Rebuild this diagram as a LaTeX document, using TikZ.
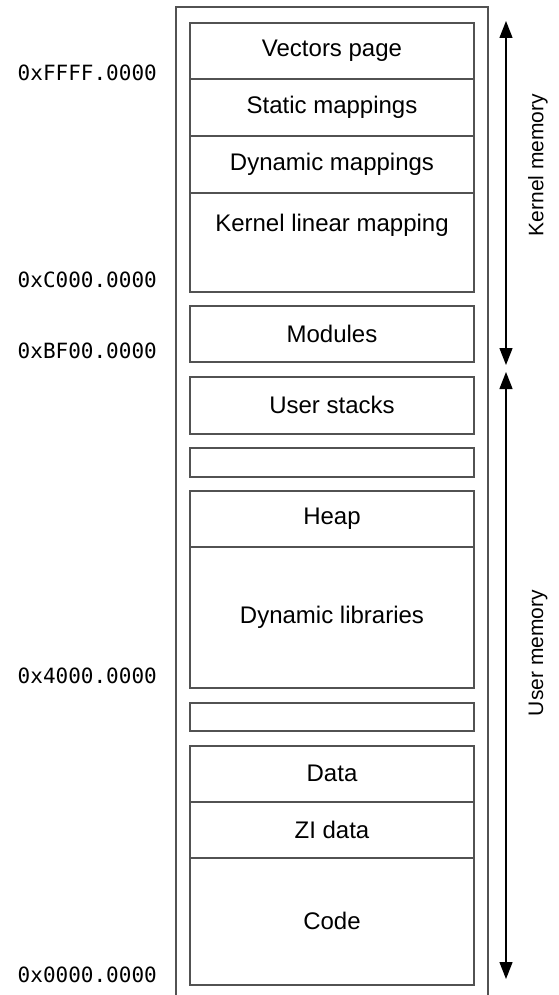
\documentclass[tikz,border=0pt]{standalone}
\usepackage{fontspec}
\setmainfont{Liberation Sans}
\newfontfamily\addrfont{DejaVu Sans Mono}
\usetikzlibrary{arrows.meta}
\begin{document}
\begin{tikzpicture}[x=1pt,y=-1pt,
  seg/.style={draw=black!68,line width=1.6pt,minimum width=284pt,inner sep=0pt,
    font=\fontsize{24}{27}\selectfont,anchor=north},
  addr/.style={anchor=east,inner sep=0pt,font=\addrfont\fontsize{21}{24}\selectfont},
  side/.style={rotate=90,inner sep=0pt,font=\fontsize{21}{24}\selectfont},
  span/.style={line width=1.3pt,{Triangle[length=17pt,width=13pt]}-{Triangle[length=17pt,width=13pt]}}]
\useasboundingbox (0,0) rectangle (559,995);
\draw[draw=black!68,line width=1.6pt] (176,995) -- (176,7) -- (488,7) -- (488,995);
% kernel
\node[seg,minimum height=56pt] (vec) at (332,22) {Vectors page};
\node[seg,minimum height=57pt] (stat) at (332,78) {Static mappings};
\node[seg,minimum height=57pt] (dyn) at (332,135) {Dynamic mappings};
\node[seg,minimum height=99pt] (klm) at (332,192) {};
\node[font=\fontsize{24}{27}\selectfont,inner sep=0pt] (klmt) at (332,225) {Kernel linear mapping};
\node[seg,minimum height=56pt] (mod) at (332,305) {Modules};
% user
\node[seg,minimum height=57pt] (ust) at (332,376) {User stacks};
\node[seg,minimum height=29pt] (gap1) at (332,447) {};
\node[seg,minimum height=56pt] (heap) at (332,490) {Heap};
\node[seg,minimum height=141pt] (dlib) at (332,546) {Dynamic libraries};
\node[seg,minimum height=28pt] (gap2) at (332,702) {};
\node[seg,minimum height=56pt] (data) at (332,745) {Data};
\node[seg,minimum height=56pt] (zi) at (332,801) {ZI data};
\node[seg,minimum height=127pt] (code) at (332,857) {Code};
% addresses
\node[addr] (aF) at (157,73) {0xFFFF.0000};
\node[addr] (aC) at (157,280) {0xC000.0000};
\node[addr] (aB) at (157,351) {0xBF00.0000};
\node[addr] (a4) at (157,676) {0x4000.0000};
\node[addr] (a0) at (157,975) {0x0000.0000};
% spans
\coordinate (kt) at (506,21);
\coordinate (kb) at (506,365);
\coordinate (ut) at (506,372);
\coordinate (ub) at (506,979);
\draw[span] (kt) -- (kb);
\draw[span] (ut) -- (ub);
\node[side] (klab) at (538,165) {Kernel memory};
\node[side] (ulab) at (538,653) {User memory};
\end{tikzpicture}
\end{document}
